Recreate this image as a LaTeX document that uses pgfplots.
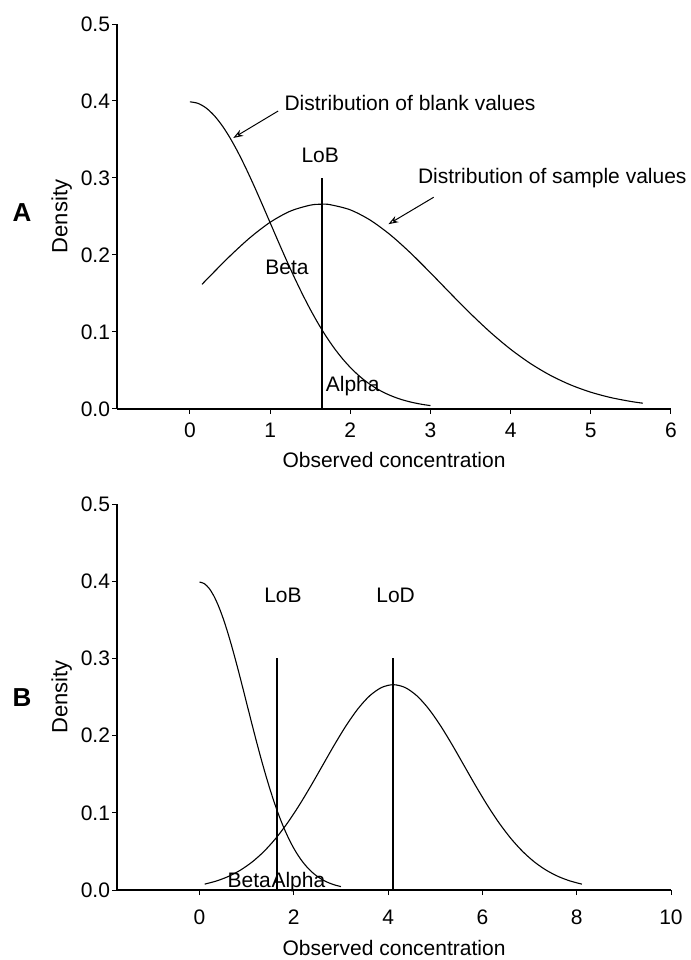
\documentclass[border=0pt]{standalone}
\usepackage{pgfplots}
\pgfplotsset{compat=1.18}
\usepackage{fontspec}
\setmainfont{Liberation Sans}
\usetikzlibrary{arrows.meta}

\tikzset{ann/.style={font=\fontsize{10.5}{12}\selectfont, inner sep=0pt}}
\pgfplotsset{
  myax/.style={
    scale only axis, width=277pt,
    axis x line*=bottom, axis y line*=left,
    ymin=0, ymax=0.5, ytick={0,0.1,0.2,0.3,0.4,0.5},
    tick align=outside, major tick length=2.5pt,
    axis line style={line width=0.8pt},
    every tick/.style={line width=0.5pt, black},
    tick label style={font=\fontsize{10.5}{12}\selectfont},
    /pgf/number format/assume math mode=true,
    yticklabel style={/pgf/number format/fixed, /pgf/number format/fixed zerofill, /pgf/number format/precision=1, inner sep=0pt, xshift=-0.8pt},
    clip=false,
    label style={font=\fontsize{10.5}{12}\selectfont},
    ylabel={Density},
    ylabel style={at={(axis description cs:-0.1,0.5)}, anchor=center, font=\fontsize{11}{12}\selectfont},
    xlabel={Observed concentration},
    every axis plot/.append style={black, line width=0.55pt},
  },
}

\begin{document}
\begin{tikzpicture}
\useasboundingbox (0,0) rectangle (345.5pt,480pt);

% ---------------- Panel A ----------------
\begin{axis}[myax, height=192.5pt,
  at={(58.5pt,275.5pt)}, anchor=south west,
  xmin=-0.91, xmax=6, xtick={0,1,2,3,4,5,6},
  xticklabel style={yshift=-1pt},
  xlabel style={at={(axis description cs:0.5,-0.095)}, anchor=north},
]
% blank distribution
\addplot[smooth] coordinates {
(0.0,0.39894) (0.1,0.39695) (0.2,0.39104) (0.3,0.38139) (0.4,0.36827)
(0.5,0.35207) (0.6,0.33322) (0.7,0.31225) (0.8,0.28969) (0.9,0.26609)
(1.0,0.24197) (1.1,0.21785) (1.2,0.19419) (1.3,0.17137) (1.4,0.14973)
(1.5,0.12952) (1.6,0.11092) (1.7,0.09405) (1.8,0.07895) (1.9,0.06562)
(2.0,0.05399) (2.1,0.04398) (2.2,0.03547) (2.3,0.02833) (2.4,0.02239)
(2.5,0.01753) (2.6,0.01358) (2.7,0.01042) (2.8,0.00792) (2.9,0.00595)
(3.0,0.00443)};
% sample distribution
\addplot[smooth] coordinates {
(0.15,0.16186) (0.25,0.17261) (0.5,0.19876) (0.75,0.22258) (1.0,0.24248)
(1.25,0.25690) (1.5,0.26472) (1.645,0.26596) (1.75,0.26531) (2.0,0.25862)
(2.25,0.24519) (2.5,0.22609) (2.75,0.20277) (3.0,0.17686) (3.25,0.15003)
(3.5,0.12381) (3.75,0.09937) (4.0,0.07755) (4.25,0.05888) (4.5,0.04347)
(4.75,0.03122) (5.0,0.02180) (5.25,0.01481) (5.5,0.00978) (5.65,0.00753)};
% LoB line
\addplot[line width=1pt] coordinates {(1.645,0) (1.645,0.3)};

\node[ann] at (axis cs:1.625,0.330) {LoB};
\node[ann] at (axis cs:1.21,0.184) {Beta};
\node[ann] at (axis cs:2.03,0.030) {Alpha};
\node[ann, anchor=west] at (axis cs:1.175,0.397) {Distribution of blank values};
\node[ann, anchor=west] at (axis cs:2.84,0.300) {Distribution of sample values};
\draw[line width=0.5pt, -{Stealth[length=5pt,width=3.5pt,open]}] (axis cs:1.10,0.387) -- (axis cs:0.54,0.352);
\draw[line width=0.5pt, -{Stealth[length=5pt,width=3.5pt,open]}] (axis cs:3.04,0.275) -- (axis cs:2.475,0.240);
\end{axis}

% ---------------- Panel B ----------------
\begin{axis}[myax, height=193pt,
  at={(58.5pt,35pt)}, anchor=south west,
  xmin=-1.75, xmax=10, xtick={0,2,4,6,8,10},
  xticklabel style={yshift=-4pt},
  xlabel style={at={(axis description cs:0.5,-0.112)}, anchor=north},
]
\addplot[smooth] coordinates {
(0.0,0.39894) (0.1,0.39695) (0.2,0.39104) (0.3,0.38139) (0.4,0.36827)
(0.5,0.35207) (0.6,0.33322) (0.7,0.31225) (0.8,0.28969) (0.9,0.26609)
(1.0,0.24197) (1.1,0.21785) (1.2,0.19419) (1.3,0.17137) (1.4,0.14973)
(1.5,0.12952) (1.6,0.11092) (1.7,0.09405) (1.8,0.07895) (1.9,0.06562)
(2.0,0.05399) (2.1,0.04398) (2.2,0.03547) (2.3,0.02833) (2.4,0.02239)
(2.5,0.01753) (2.6,0.01358) (2.7,0.01042) (2.8,0.00792) (2.9,0.00595)
(3.0,0.00443)};
\addplot[smooth] coordinates {
(0.11,0.00760) (0.36,0.01169) (0.61,0.01748) (0.86,0.02543) (1.11,0.03599)
(1.36,0.04954) (1.61,0.06632) (1.86,0.08634) (2.11,0.10934) (2.36,0.13467)
(2.61,0.16131) (2.86,0.18796) (3.11,0.21297) (3.36,0.23471) (3.61,0.25159)
(3.86,0.26229) (4.11,0.26596) (4.36,0.26229) (4.61,0.25159) (4.86,0.23471)
(5.11,0.21297) (5.36,0.18796) (5.61,0.16131) (5.86,0.13467) (6.11,0.10934)
(6.36,0.08634) (6.61,0.06632) (6.86,0.04954) (7.11,0.03599) (7.36,0.02543)
(7.61,0.01748) (7.86,0.01169) (8.11,0.00760)};
\addplot[line width=1pt] coordinates {(1.645,0) (1.645,0.3)};
\addplot[line width=1pt] coordinates {(4.11,0) (4.11,0.3)};

\node[ann] at (axis cs:1.77,0.382) {LoB};
\node[ann] at (axis cs:4.16,0.382) {LoD};
\node[ann, anchor=base east] at (axis cs:1.52,0.003) {Beta};
\node[ann, anchor=base west] at (axis cs:1.52,0.003) {Alpha};
\end{axis}

\node[font=\bfseries\fontsize{13}{14}\selectfont] at (11pt,373.5pt) {A};
\node[font=\bfseries\fontsize{13}{14}\selectfont] at (11pt,131pt) {B};
\end{tikzpicture}
\end{document}
